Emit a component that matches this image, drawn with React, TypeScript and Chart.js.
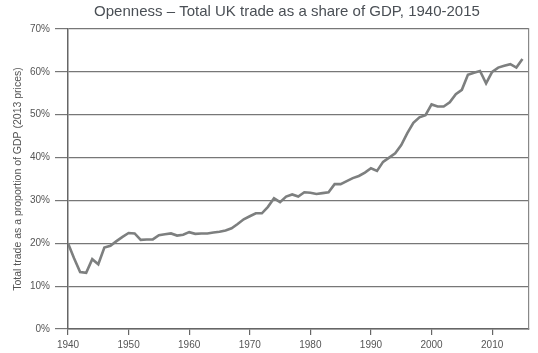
import React, { useEffect, useRef } from "react";
import { Chart, registerables } from "chart.js";

Chart.register(...registerables);

const years: number[] = [
  1940, 1941, 1942, 1943, 1944, 1945, 1946, 1947, 1948, 1949,
  1950, 1951, 1952, 1953, 1954, 1955, 1956, 1957, 1958, 1959,
  1960, 1961, 1962, 1963, 1964, 1965, 1966, 1967, 1968, 1969,
  1970, 1971, 1972, 1973, 1974, 1975, 1976, 1977, 1978, 1979,
  1980, 1981, 1982, 1983, 1984, 1985, 1986, 1987, 1988, 1989,
  1990, 1991, 1992, 1993, 1994, 1995, 1996, 1997, 1998, 1999,
  2000, 2001, 2002, 2003, 2004, 2005, 2006, 2007, 2008, 2009,
  2010, 2011, 2012, 2013, 2014, 2015,
];

const tradeShare: number[] = [
  20.0, 16.5, 13.3, 13.1, 16.3, 15.1, 19.0, 19.4, 20.5, 21.5,
  22.4, 22.3, 20.8, 20.9, 20.9, 21.9, 22.1, 22.3, 21.8, 22.0,
  22.6, 22.2, 22.3, 22.3, 22.5, 22.7, 23.0, 23.5, 24.5, 25.6,
  26.3, 27.0, 27.0, 28.5, 30.5, 29.6, 30.9, 31.4, 30.9, 31.9,
  31.8, 31.5, 31.7, 31.9, 33.8, 33.8, 34.5, 35.2, 35.7, 36.5,
  37.5, 36.9, 39.0, 40.0, 41.0, 42.9, 45.7, 48.1, 49.4, 49.9,
  52.4, 51.9, 51.9, 52.9, 54.8, 55.8, 59.3, 59.8, 60.2, 57.3,
  60.0, 61.0, 61.4, 61.8, 61.0, 63.0,
];

const yTicks: number[] = [0, 10, 20, 30, 40, 50, 60, 70];
const xTicks: number[] = [1940, 1950, 1960, 1970, 1980, 1990, 2000, 2010];

const titleText = "Openness \u2013 Total UK trade as a share of GDP, 1940-2015";
const yTitleText = "Total trade as a proportion of GDP (2013 prices)";

export default function App() {
  const ref = useRef<HTMLCanvasElement | null>(null);

  useEffect(() => {
    document.body.style.margin = "0";
    const canvas = ref.current;
    if (!canvas) return;
    const font = "'Liberation Sans', Arial, Helvetica, sans-serif";
    const chart = new Chart(canvas, {
      type: "line",
      data: {
        datasets: [
          {
            data: years.map((y, i) => ({ x: y, y: tradeShare[i] })),
            borderColor: "#7d7f7f",
            borderWidth: 2.6,
            pointRadius: 0,
            tension: 0,
            fill: false,
          },
        ],
      },
      options: {
        animation: false,
        responsive: false,
        maintainAspectRatio: false,
        layout: { padding: { top: 0, left: 0, right: -36, bottom: 0 } },
        plugins: {
          legend: { display: false },
          tooltip: { enabled: false },
          title: {
            display: true,
            text: titleText,
            color: "#4a4f55",
            font: { family: font, size: 15, weight: "normal" },
            padding: { top: 2.5, bottom: 8.5 },
          },
        },
        scales: {
          x: {
            type: "linear",
            min: 1940,
            max: 2016,
            afterBuildTicks: (scale: any) => {
              scale.ticks = xTicks.map((v) => ({ value: v }));
            },
            afterFit: (scale: any) => {
              scale.height = 24;
            },
            ticks: {
              color: "#555",
              font: { family: font, size: 10 },
              padding: 4,
              maxRotation: 0,
              autoSkip: false,
              callback: (v: any) => String(v),
            },
            grid: {
              drawOnChartArea: false,
              drawTicks: true,
              tickLength: 6,
              color: "#666",
              lineWidth: 1.2,
            },
            border: { display: true, color: "#666", width: 1.5 },
          },
          y: {
            type: "linear",
            position: "left",
            min: 0,
            max: 70,
            afterBuildTicks: (scale: any) => {
              scale.ticks = yTicks.map((v) => ({ value: v }));
            },
            afterFit: (scale: any) => {
              scale.width = 68;
            },
            ticks: {
              color: "#555",
              font: { family: font, size: 10 },
              padding: 5,
              callback: (v: any) => v + "%",
            },
            grid: {
              drawOnChartArea: true,
              drawTicks: true,
              tickLength: 13,
              color: "#777",
              lineWidth: 1.2,
            },
            border: { display: true, color: "#666", width: 1.5 },
            title: {
              display: true,
              text: yTitleText,
              color: "#555",
              font: { family: font, size: 10.5 },
              padding: { top: 12, bottom: 0 },
            },
          },
          y2: {
            type: "linear",
            position: "right",
            min: 0,
            max: 70,
            afterFit: (scale: any) => {
              scale.width = 45.5;
            },
            ticks: { display: false },
            grid: { display: false },
            border: { display: true, color: "#888", width: 1.2 },
          },
        },
      },
    } as any);
    return () => chart.destroy();
  }, []);

  return (
    <div style={{ width: 538, height: 353, background: "#fff" }}>
      <canvas ref={ref} width={538} height={353} style={{ display: "block" }} />
    </div>
  );
}
